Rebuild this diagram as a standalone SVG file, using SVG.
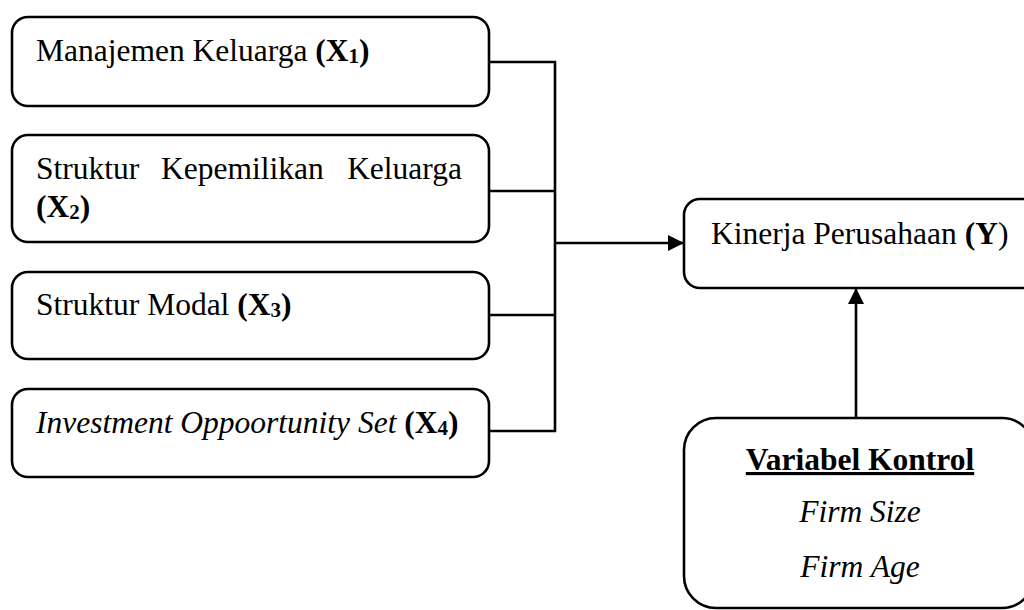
<svg xmlns="http://www.w3.org/2000/svg" width="1024" height="610" viewBox="0 0 1024 610">
<style>
.box{fill:#fff;stroke:#000;stroke-width:2.6}
.ln{fill:none;stroke:#000;stroke-width:2.6}
text{font-family:"Liberation Serif","Times New Roman",serif;font-size:31.5px;fill:#000}
.b{font-weight:bold}
.i{font-style:italic}
.sub{font-size:21px;font-weight:bold}
</style>
<defs>
<marker id="ah" markerWidth="16" markerHeight="16" viewBox="0 0 16 16" refX="16" refY="8" orient="auto" markerUnits="userSpaceOnUse">
<path d="M0,0 L16,8 L0,16 Z" fill="#000"/>
</marker>
</defs>
<g id="connectors">
<path class="ln" d="M489,62 H555 M489,191 H555 M489,315 H555 M489,431 H555 M555,60.7 V432.3"/>
<path class="ln" d="M555,243 H684" marker-end="url(#ah)"/>
<path class="ln" d="M856,418 V288" marker-end="url(#ah)"/>
</g>
<g id="x1">
<rect class="box" x="12" y="17" width="477" height="89" rx="16"/>
<text x="36" y="61">Manajemen Keluarga <tspan class="b">(X</tspan><tspan class="sub" dy="2">1</tspan><tspan class="b" dy="-2">)</tspan></text>
</g>
<g id="x2">
<rect class="box" x="12" y="135" width="477" height="107" rx="16"/>
<text y="179"><tspan x="36">Struktur</tspan><tspan x="161">Kepemilikan</tspan><tspan x="462" text-anchor="end">Keluarga</tspan></text>
<text x="36" y="217" class="b">(X<tspan class="sub" dy="2">2</tspan><tspan dy="-2">)</tspan></text>
</g>
<g id="x3">
<rect class="box" x="12" y="272" width="477" height="87" rx="16"/>
<text x="36" y="315">Struktur Modal <tspan class="b">(X</tspan><tspan class="sub" dy="2">3</tspan><tspan class="b" dy="-2">)</tspan></text>
</g>
<g id="x4">
<rect class="box" x="12" y="389" width="477" height="88" rx="16"/>
<text x="36" y="433"><tspan class="i">Investment Oppoortunity Set</tspan> <tspan class="b">(X</tspan><tspan class="sub" dy="2">4</tspan><tspan class="b" dy="-2">)</tspan></text>
</g>
<g id="y">
<rect class="box" x="684" y="199" width="400" height="89" rx="16"/>
<text x="711" y="244">Kinerja Perusahaan <tspan class="b">(Y</tspan>)</text>
</g>
<g id="kontrol">
<rect class="box" x="684" y="418" width="350" height="190" rx="32"/>
<text x="860" y="470" text-anchor="middle" class="b" text-decoration="underline">Variabel Kontrol</text>
<text x="860" y="522" text-anchor="middle" class="i">Firm Size</text>
<text x="860" y="577" text-anchor="middle" class="i">Firm Age</text>
</g>
</svg>
